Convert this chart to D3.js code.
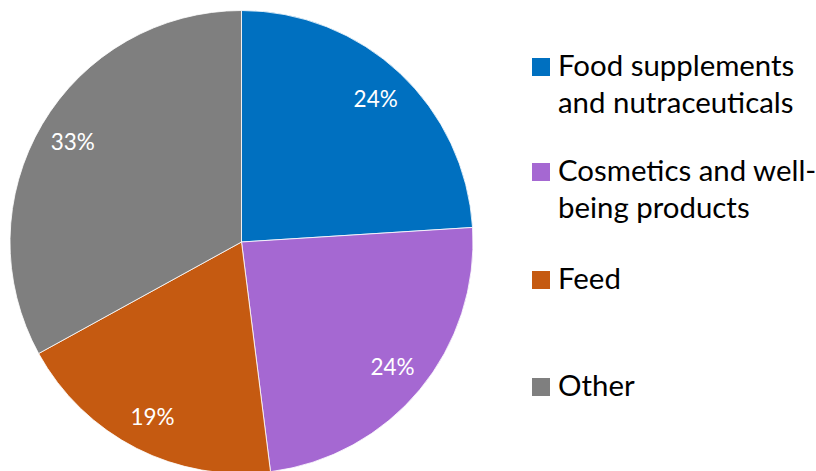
<!DOCTYPE html>
<html><head><meta charset="utf-8">
<script src="https://cdn.jsdelivr.net/npm/d3@7"></script>
<style>
html,body{margin:0;padding:0;background:#fff;}
svg{display:block;font-family:Lato, "Open Sans", sans-serif;}
</style></head>
<body>
<svg id="chart" width="816" height="471"></svg>
<script>
const categories = ["Food supplements and nutraceuticals","Cosmetics and well-being products","Feed","Other"];
const legendLines = [["Food supplements","and nutraceuticals"],["Cosmetics and well-","being products"],["Feed"],["Other"]];
const values = [24, 24, 19, 33];
const colors = ["#0070C0","#A568D2","#C55A11","#7F7F7F"];

const svg = d3.select("#chart");
const cx = 241.5, cy = 242, R = 231.5, labelR = 196;

const pie = d3.pie().sort(null).value(d => d)(values);
const arc = d3.arc().innerRadius(0).outerRadius(R);
const labelArc = d3.arc().innerRadius(labelR).outerRadius(labelR);

const g = svg.append("g").attr("transform", `translate(${cx},${cy})`);
g.selectAll("path").data(pie).join("path")
  .attr("d", arc)
  .attr("fill", (d,i) => colors[i])
  .attr("stroke", "#fff").attr("stroke-width", 0.8);

g.selectAll("text").data(pie).join("text")
  .attr("transform", d => `translate(${labelArc.centroid(d)})`)
  .attr("text-anchor", "middle").attr("dy", "0.35em")
  .attr("fill", "#fff").attr("font-size", 22.5)
  .text(d => d.data + "%");

const legY = [76, 181, 289, 396];
const lg = svg.append("g");
legendLines.forEach((lines, i) => {
  lg.append("rect").attr("x", 532).attr("y", legY[i] - 18).attr("width", 18).attr("height", 18).attr("fill", colors[i]);
  const t = lg.append("text").attr("x", 558).attr("y", legY[i]).attr("font-size", 29.4).attr("fill", "#000");
  lines.forEach((ln, j) => {
    t.append("tspan").attr("x", 558).attr("y", legY[i] + j * 37).text(ln);
  });
});
</script>
</body></html>
